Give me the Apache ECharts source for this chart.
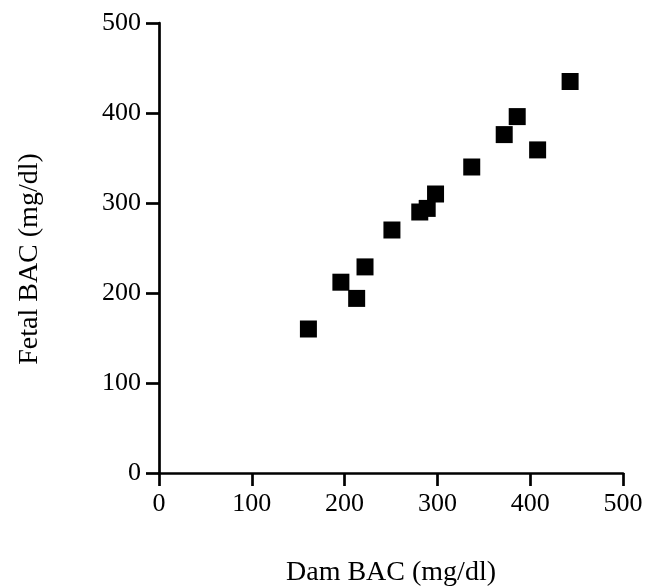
<!DOCTYPE html>
<html>
<head>
<meta charset="utf-8">
<script src="https://cdn.jsdelivr.net/npm/echarts@6/dist/echarts.min.js"></script>
<style>
html,body{margin:0;padding:0;background:#fff;}
#chart{width:648px;height:587px;}
</style>
</head>
<body>
<div id="chart"></div>
<script>
var damBAC   = [161, 196, 213, 222, 251, 281, 289, 298, 337, 372, 386, 408, 443];
var fetalBAC = [160, 212, 194, 229, 270, 290, 294, 310, 340, 376, 396, 359, 435];
var xTicks = [0, 100, 200, 300, 400, 500];
var yTicks = [0, 100, 200, 300, 400, 500];
var xTitle = 'Dam BAC (mg/dl)';
var yTitle = 'Fetal BAC (mg/dl)';

var points = damBAC.map(function (d, i) { return [d, fetalBAC[i]]; });
var font = '"Liberation Serif", "Times New Roman", serif';
var axisCommon = {
  type: 'value',
  interval: 100,
  splitLine: { show: false },
  axisLine: { show: true, onZero: false, lineStyle: { color: '#000', width: 2.7 } },
  axisTick: { show: true, inside: false, length: 13, lineStyle: { color: '#000', width: 2.7 } },
  axisLabel: { color: '#000', fontFamily: font, fontSize: 26 },
  nameLocation: 'middle',
  nameTextStyle: { color: '#000', fontFamily: font, fontSize: 28 }
};

var chart = echarts.init(document.getElementById('chart'), null, { renderer: 'canvas' });
chart.setOption({
  backgroundColor: '#fff',
  animation: false,
  grid: { left: 159, right: 25, top: 23, bottom: 114, containLabel: false, outerBoundsMode: 'none' },
  xAxis: Object.assign({}, axisCommon, {
    min: xTicks[0], max: xTicks[xTicks.length - 1],
    name: xTitle, nameGap: 86,
    axisLabel: Object.assign({}, axisCommon.axisLabel, { margin: 18 })
  }),
  yAxis: Object.assign({}, axisCommon, {
    min: yTicks[0], max: yTicks[yTicks.length - 1],
    name: yTitle, nameGap: 115,
    nameTextStyle: Object.assign({}, axisCommon.nameTextStyle, { padding: [0, 22, 0, 0] }),
    axisLabel: Object.assign({}, axisCommon.axisLabel, { margin: 18 })
  }),
  series: [{
    type: 'scatter',
    data: points,
    symbol: 'rect',
    symbolSize: 17,
    itemStyle: { color: '#000', opacity: 1 }
  }]
});
</script>
</body>
</html>
